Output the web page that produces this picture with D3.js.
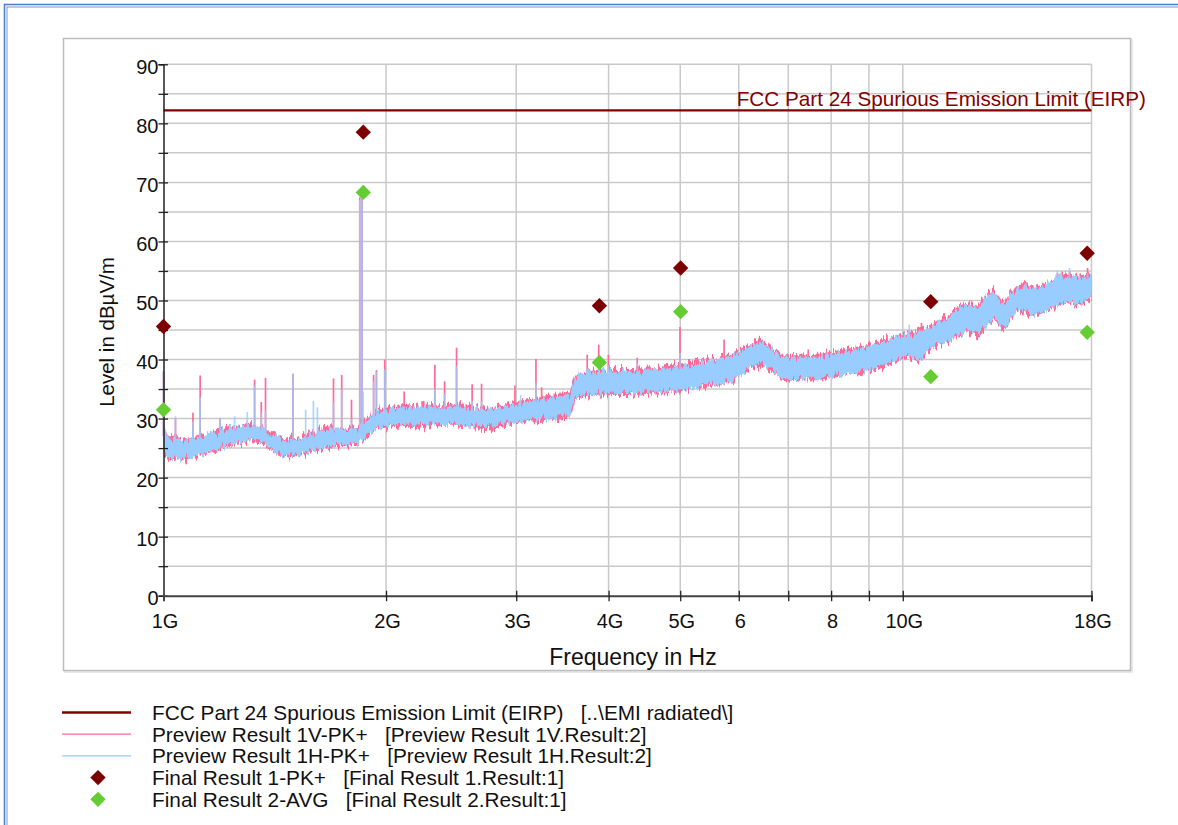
<!DOCTYPE html>
<html>
<head>
<meta charset="utf-8">
<script src="https://cdn.jsdelivr.net/npm/d3@7"></script>
<style>
  html, body { margin: 0; padding: 0; background: #fff; overflow: hidden; }
  svg { display: block; font-family: "Liberation Sans", Arial, Helvetica, sans-serif; }
  text { white-space: pre; }
</style>
</head>
<body>
<svg id="chart" width="1178" height="825"></svg>
<script>
// ---- Axis ticks ----
const yTickValues = d3.range(0, 95, 5);
const xTickValues = [2, 3, 4, 5, 6, 7, 8, 9, 10, 18];          // GHz
const xLabelValues = [1, 2, 3, 4, 5, 6, 8, 10, 18];            // GHz
const xLabelText = ["1G", "2G", "3G", "4G", "5G", "6", "8", "10G", "18G"];

// ---- Limit line (dBµV/m) ----
const limitLevel = 82.2;
const limitName = "FCC Part 24 Spurious Emission Limit (EIRP)";

// ---- Preview scans: envelope of each trace (GHz, dBµV/m) ----
const scanFreq = [1.000, 1.010, 1.019, 1.040, 1.061, 1.090, 1.119, 1.150, 1.180, 1.205,
  1.228, 1.255, 1.279, 1.315, 1.349, 1.385, 1.422, 1.450, 1.481, 1.530,
  1.576, 1.625, 1.678, 1.730, 1.786, 1.832, 1.850, 1.878, 1.905, 1.931,
  1.980, 2.030, 2.087, 2.140, 2.201, 2.280, 2.365, 2.440, 2.517, 2.620,
  2.737, 2.820, 2.914, 3.030, 3.159, 3.331, 3.437, 3.546, 3.575, 3.602,
  3.716, 3.895, 4.100, 4.316, 4.550, 4.799, 5.050, 5.319, 5.600, 5.895,
  6.050, 6.215, 6.412, 6.530, 6.657, 6.889, 7.264, 7.659, 8.050, 8.491,
  9.036, 9.410, 9.922, 10.20, 10.463, 10.75, 11.00, 11.30, 11.60, 11.90,
  12.23, 12.62, 12.95, 13.27, 13.68, 14.00, 14.29, 14.65, 15.02, 15.40,
  15.84, 16.34, 16.80, 17.23, 17.60, 18.00];

const hLow = [24.5, 23.6, 23.4, 23.2, 23.3, 23.5, 23.8, 24.3, 24.7, 25.2,
  25.6, 25.9, 26.2, 26.5, 26.3, 25.2, 24.4, 23.8, 23.7, 24.0,
  24.5, 24.9, 25.3, 25.6, 25.7, 25.9, 26.5, 26.8, 27.8, 28.3,
  28.7, 28.9, 28.9, 29.1, 29.0, 29.0, 29.0, 29.1, 29.1, 28.7,
  28.5, 28.9, 29.3, 29.6, 29.8, 30.0, 30.3, 30.5, 31.8, 33.6,
  34.0, 34.2, 34.3, 34.3, 34.5, 34.6, 35.0, 35.5, 36.0, 36.6,
  37.5, 38.6, 39.4, 39.0, 38.3, 37.0, 36.7, 36.8, 37.2, 37.7,
  38.3, 38.9, 40.3, 40.6, 39.8, 41.2, 42.3, 42.9, 43.4, 44.3,
  45.1, 44.2, 45.8, 46.8, 45.4, 47.0, 48.5, 48.2, 47.5, 47.9,
  48.5, 49.6, 49.8, 49.3, 49.9, 50.5];
const hHigh = [29.5, 26.8, 26.4, 26.6, 26.2, 26.5, 26.9, 27.2, 27.6, 28.0,
  28.4, 28.6, 28.8, 28.7, 28.3, 27.6, 27.0, 26.4, 26.3, 26.6,
  27.1, 27.7, 28.3, 28.3, 28.2, 28.5, 29.5, 29.4, 30.3, 30.9,
  31.3, 31.6, 31.8, 32.0, 32.1, 31.9, 31.8, 32.0, 32.1, 31.6,
  31.4, 31.7, 32.1, 32.6, 33.0, 33.5, 33.8, 34.0, 35.5, 36.9,
  37.5, 37.9, 38.0, 38.0, 38.3, 38.5, 39.0, 39.5, 40.0, 40.6,
  41.5, 42.2, 43.0, 42.4, 41.6, 40.5, 40.3, 40.4, 41.0, 41.5,
  42.3, 43.0, 43.9, 44.2, 44.4, 45.0, 45.6, 46.6, 47.7, 48.6,
  49.4, 48.7, 50.5, 51.6, 49.2, 51.0, 52.2, 52.4, 52.0, 52.4,
  53.0, 54.2, 53.9, 53.8, 54.0, 53.8];

const vLow = [24.2, 23.3, 23.1, 22.9, 23.0, 23.2, 23.5, 24.0, 24.4, 24.9,
  25.3, 25.7, 25.9, 26.2, 26.0, 24.9, 24.1, 23.5, 23.4, 23.7,
  24.2, 24.6, 25.0, 25.3, 25.4, 25.6, 26.2, 26.5, 27.5, 28.0,
  28.4, 28.6, 28.6, 28.8, 28.7, 28.7, 28.7, 28.8, 28.8, 28.4,
  28.2, 28.6, 29.0, 29.3, 29.5, 29.7, 30.0, 30.2, 31.5, 33.3,
  33.7, 33.9, 34.0, 34.0, 34.2, 34.3, 34.7, 35.2, 35.7, 36.3,
  37.2, 38.3, 39.1, 38.7, 38.0, 36.7, 36.4, 36.5, 36.9, 37.4,
  38.0, 38.6, 40.0, 40.3, 39.5, 40.9, 42.0, 42.6, 43.1, 44.0,
  44.8, 43.9, 45.5, 46.5, 45.1, 46.7, 48.2, 47.9, 47.2, 47.6,
  48.2, 49.3, 49.5, 49.0, 49.6, 50.2];
const vHigh = [29.8, 27.2, 26.8, 27.0, 26.6, 26.9, 27.3, 27.6, 28.0, 28.4,
  28.8, 29.0, 29.2, 29.1, 28.7, 28.0, 27.4, 26.8, 26.7, 27.0,
  27.5, 28.1, 28.7, 28.7, 28.6, 28.9, 29.9, 29.8, 30.7, 31.3,
  31.7, 32.0, 32.2, 32.4, 32.5, 32.3, 32.2, 32.4, 32.5, 32.0,
  31.8, 32.1, 32.5, 33.0, 33.4, 33.9, 34.2, 34.4, 35.9, 37.3,
  37.9, 38.3, 38.4, 38.4, 38.7, 38.9, 39.4, 39.9, 40.4, 41.0,
  41.9, 42.6, 43.4, 42.8, 42.0, 40.9, 40.7, 40.8, 41.4, 41.9,
  42.7, 43.4, 44.3, 44.6, 44.8, 45.4, 46.0, 47.0, 48.1, 49.0,
  49.8, 49.1, 50.9, 52.0, 49.6, 51.4, 52.6, 52.8, 52.4, 52.8,
  53.4, 54.6, 54.3, 54.2, 54.4, 54.2];

// ---- Narrow peaks on the preview scans (GHz, dBµV/m; null = no peak) ----
const peakFreq = [1.000, 1.038, 1.096, 1.121, 1.193, 1.248, 1.298, 1.328, 1.356, 1.374,
  1.497, 1.557, 1.595, 1.615, 1.698, 1.742, 1.796, 1.843, 1.856, 1.862,
  1.924, 1.941, 1.992, 2.116, 2.249, 2.328, 2.400, 2.491, 2.615, 2.693,
  2.988, 3.042, 3.190, 3.247, 3.491, 3.613, 3.742, 3.879, 3.997, 4.374,
  4.997, 5.732, 7.449, 10.205, 10.60, 16.18, 16.81, 17.78];
const peakV = [38.0, 30.0, 31.0, 37.3, 30.0, null, null, 36.6, 32.8, 36.9,
  37.6, null, null, null, 36.8, 37.4, 33.2, 67.5, 67.3, null,
  37.4, 38.2, 40.0, 34.6, 33.0, 39.1, 36.3, 42.0, 35.8, 35.9,
  35.6, null, 40.1, 35.3, 34.5, 37.3, 40.8, 42.5, 40.8, 40.3,
  45.5, 43.4, 41.7, 45.0, 46.2, 54.6, 55.0, 55.5];
const peakH = [38.0, 30.4, 29.5, 33.6, 30.2, 30.4, 31.1, 35.6, 31.0, 31.5,
  37.6, 31.5, 33.0, 31.9, 32.9, 34.9, 30.0, 67.0, 67.2, 34.6,
  36.3, 37.9, 38.3, 32.0, null, 35.0, 34.2, 38.9, 33.0, 33.0,
  null, 34.0, 36.1, null, null, null, 38.5, 38.5, 39.0, 39.5,
  41.1, 40.0, 40.5, 45.9, 45.0, 55.1, 55.5, 54.6];

// ---- Final measurements ----
const finalFreq = [1.000, 1.863, 3.887, 5.006, 10.91, 17.76];
const finalPK = [45.6, 78.5, 49.1, 55.5, 49.8, 58.0];
const finalAVG = [31.5, 68.3, 39.5, 48.1, 37.1, 44.6];

// ---- Legend ----
const legendText = [
  "FCC Part 24 Spurious Emission Limit (EIRP)   [..\\EMI radiated\\]",
  "Preview Result 1V-PK+   [Preview Result 1V.Result:2]",
  "Preview Result 1H-PK+   [Preview Result 1H.Result:2]",
  "Final Result 1-PK+   [Final Result 1.Result:1]",
  "Final Result 2-AVG   [Final Result 2.Result:1]"
];

// ---- Colours ----
const cLimit = "#850000";
const cV = "#ff6b98";
const cH = "#99ccff";
const cPK = "#7d0000";
const cAVG = "#66cc33";
const cGrid = "#c9c9c9";

const svg = d3.select("#chart");

// Noise texture for the dense scan traces: vertical jitter of the band edges
const defs = svg.append("defs");
function jitterFilter(id, seed, scale) {
  const f = defs.append("filter").attr("id", id)
    .attr("filterUnits", "userSpaceOnUse")
    .attr("x", 140).attr("y", 40).attr("width", 980).attr("height", 560)
    .attr("color-interpolation-filters", "sRGB");
  f.append("feTurbulence").attr("type", "fractalNoise")
    .attr("baseFrequency", "0.42 0.02").attr("numOctaves", 2)
    .attr("seed", seed).attr("result", "noise");
  f.append("feColorMatrix").attr("in", "noise").attr("type", "matrix")
    .attr("values", "0 0 0 0 0.5  1 0 0 0 0  0 0 0 0 0  0 0 0 0 1")
    .attr("result", "shift");
  f.append("feDisplacementMap").attr("in", "SourceGraphic").attr("in2", "shift")
    .attr("scale", scale).attr("xChannelSelector", "R").attr("yChannelSelector", "G");
}
jitterFilter("jitV", 7, 17);
jitterFilter("jitH", 2, 15);

// Page frame (double blue rule)
svg.append("rect").attr("x", 4.5).attr("y", 4.5).attr("width", 1300).attr("height", 1000)
  .attr("fill", "none").attr("stroke", "#4f82cc").attr("stroke-width", 1.6);
svg.append("rect").attr("x", 7).attr("y", 7).attr("width", 1300).attr("height", 1000)
  .attr("fill", "none").attr("stroke", "#6e99d6").attr("stroke-width", 1);

// Chart panel
svg.append("rect").attr("x", 65).attr("y", 40).attr("width", 1067).attr("height", 632)
  .attr("fill", "none").attr("stroke", "#e2e2e2").attr("stroke-width", 1.5);
svg.append("rect").attr("x", 63.5).attr("y", 38.5).attr("width", 1067).attr("height", 632)
  .attr("fill", "#fff").attr("stroke", "#bdbdbd").attr("stroke-width", 1.5);

const x = d3.scaleLog().domain([1, 18]).range([163.5, 1091.5]);
const y = d3.scaleLinear().domain([0, 90]).range([595.7, 64.3]);

// Grid
const grid = svg.append("g");
grid.selectAll("line.h").data(yTickValues.filter(d => d > 0)).join("line")
  .attr("x1", x(1)).attr("x2", x(18)).attr("y1", d => y(d)).attr("y2", d => y(d))
  .attr("stroke", cGrid).attr("stroke-width", 1.5);
grid.selectAll("line.v").data(xTickValues).join("line")
  .attr("x1", d => x(d)).attr("x2", d => x(d)).attr("y1", y(0)).attr("y2", y(90))
  .attr("stroke", cGrid).attr("stroke-width", 1.5);

// Limit line
svg.append("line").attr("x1", x(1)).attr("x2", x(18))
  .attr("y1", y(limitLevel)).attr("y2", y(limitLevel))
  .attr("stroke", cLimit).attr("stroke-width", 2.4);
svg.append("text").attr("x", 1146).attr("y", y(limitLevel) - 4)
  .attr("text-anchor", "end").attr("fill", cLimit).attr("font-size", 20.7)
  .text(limitName);

// Preview traces as bands
const plot = svg.append("g");
const rowsV = scanFreq.map((f, i) => ({ f, lo: vLow[i], hi: vHigh[i] }));
const rowsH = scanFreq.map((f, i) => ({ f, lo: hLow[i], hi: hHigh[i] }));
const band = d3.area().x(d => x(d.f)).y0(d => y(d.lo)).y1(d => y(d.hi));

plot.append("path").datum(rowsV).attr("d", band).attr("fill", cV)
  .attr("filter", "url(#jitV)");

// peak base = band centre at that frequency
const bisect = d3.bisector(d => d).left;
function baseAt(f) {
  let i = Math.min(Math.max(bisect(scanFreq, f), 1), scanFreq.length - 1);
  const f0 = scanFreq[i - 1], f1 = scanFreq[i];
  const t = (Math.log(f) - Math.log(f0)) / (Math.log(f1) - Math.log(f0));
  const m0 = (hLow[i - 1] + hHigh[i - 1]) / 2, m1 = (hLow[i] + hHigh[i]) / 2;
  return m0 + (m1 - m0) * Math.max(0, Math.min(1, t));
}
const peaks = peakFreq.map((f, i) => ({ f, v: peakV[i], h: peakH[i], b: baseAt(f) }));

plot.selectAll("line.pv").data(peaks.filter(d => d.v != null)).join("line")
  .attr("x1", d => x(d.f)).attr("x2", d => x(d.f))
  .attr("y1", d => y(d.b)).attr("y2", d => y(d.v))
  .attr("stroke", cV).attr("stroke-width", 1.7);

plot.append("path").datum(rowsH).attr("d", band).attr("fill", cH)
  .attr("filter", "url(#jitH)");

plot.selectAll("line.ph").data(peaks.filter(d => d.h != null)).join("line")
  .attr("x1", d => x(d.f)).attr("x2", d => x(d.f))
  .attr("y1", d => y(d.b)).attr("y2", d => y(d.h))
  .attr("stroke", cH).attr("stroke-width", 1.7).attr("stroke-opacity", 0.8);

// Axes
const yAxis = svg.append("g").attr("transform", `translate(${x(1)},0)`)
  .call(d3.axisLeft(y).tickValues(yTickValues)
    .tickFormat(d => d % 10 === 0 ? d : "").tickSize(5).tickPadding(0));
yAxis.select(".domain").attr("stroke", "#222").attr("stroke-width", 1.5);
yAxis.selectAll(".tick line").attr("x1", 4.5).attr("stroke", "#222").attr("stroke-width", 1.3);
yAxis.selectAll(".tick text").attr("font-size", 20).attr("fill", "#111")
  .attr("font-family", "'Liberation Sans', Arial, sans-serif").attr("dy", "0.46em");

const xAxis = svg.append("g").attr("transform", `translate(0,${y(0)})`)
  .call(d3.axisBottom(x).tickValues(xTickValues).tickFormat("").tickSize(5.5));
xAxis.select(".domain").attr("stroke", "#444").attr("stroke-width", 2);
xAxis.selectAll(".tick line").attr("y1", -5).attr("stroke", "#222").attr("stroke-width", 1.3);

svg.append("g").selectAll("text").data(xLabelValues).join("text")
  .attr("x", d => x(d) + 1.5).attr("y", 628).attr("text-anchor", "middle")
  .attr("font-size", 20).attr("fill", "#111").text((d, i) => xLabelText[i]);

// Final result markers
const diamond = d3.symbol().type(d3.symbolDiamond2).size(150);
const marks = svg.append("g");
marks.selectAll("path.pk").data(finalFreq).join("path")
  .attr("transform", (d, i) => `translate(${x(d)},${y(finalPK[i])})`)
  .attr("d", diamond).attr("fill", cPK);
marks.selectAll("path.avg").data(finalFreq).join("path")
  .attr("transform", (d, i) => `translate(${x(d)},${y(finalAVG[i])})`)
  .attr("d", diamond).attr("fill", cAVG);

// Axis titles
svg.append("text").attr("x", 633).attr("y", 665).attr("text-anchor", "middle")
  .attr("font-size", 23).attr("fill", "#111").text("Frequency in Hz");
svg.append("text").attr("transform", "translate(114,332) rotate(-90)")
  .attr("text-anchor", "middle").attr("font-size", 20.5).attr("fill", "#111")
  .text("Level in dBµV/m");

// Legend
const legend = svg.append("g");
const rowY = d3.range(legendText.length).map(i => 712.5 + i * 21.7);
const lineStyle = [
  { c: cLimit, w: 2.4 },
  { c: cV, w: 1.2 },
  { c: cH, w: 1.2 }
];
lineStyle.forEach((s, i) => {
  legend.append("line").attr("x1", 62).attr("x2", 131)
    .attr("y1", rowY[i]).attr("y2", rowY[i]).attr("stroke", s.c).attr("stroke-width", s.w);
});
legend.append("path").attr("transform", `translate(98,${rowY[3]})`).attr("d", diamond).attr("fill", cPK);
legend.append("path").attr("transform", `translate(98,${rowY[4]})`).attr("d", diamond).attr("fill", cAVG);
legend.selectAll("text").data(legendText).join("text")
  .attr("x", 152).attr("y", (d, i) => rowY[i] + 7.5)
  .attr("font-size", 20.8).attr("fill", "#111").text(d => d);
</script>
</body>
</html>
